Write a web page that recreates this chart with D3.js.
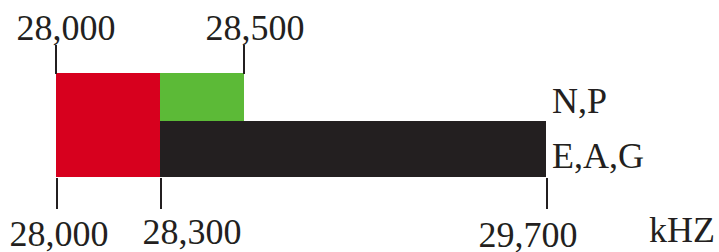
<!DOCTYPE html>
<html lang="en">
<head>
  <meta charset="UTF-8" />
  <title>Band plan</title>
  <script src="https://d3js.org/d3.v7.min.js"></script>
  <style>
    body { margin: 0; background: #fff; }
    text { font-family: "Liberation Serif", "DejaVu Serif", serif; font-size: 36px; fill: #231f20; }
  </style>
</head>
<body>
  <div id="chart"></div>
  <script>
    // frequency bands in kHz
    const bandStart = [28000, 28300, 28300];
    const bandEnd   = [28300, 28500, 29700];
    const bandRows  = ['all', 'top', 'bottom'];
    const bandColors = ['#d7001e', '#5cba37', '#231f20'];

    const rowLabels = ['N,P', 'E,A,G'];
    const topTicks = [28000, 28500];
    const bottomTicks = [28000, 28300, 29700];
    const unit = 'kHZ';

    const w = 719, h = 252;

    const svg = d3.select('#chart')
      .append('svg')
      .attr('width', w)
      .attr('height', h);

    // the drawing is not to scale, so the axis is piecewise
    const x = d3.scaleLinear()
      .domain([28000, 28300, 28500, 29700])
      .range([56, 160, 244, 546]);

    const rowTop = { all: 73, top: 73, bottom: 121 };
    const rowBottom = { all: 177, top: 121, bottom: 177 };

    const bands = bandStart.map((s, i) => ({
      start: s, end: bandEnd[i], row: bandRows[i], color: bandColors[i]
    }));

    svg.selectAll('rect.band')
      .data(bands)
      .join('rect')
      .attr('class', 'band')
      .attr('x', d => x(d.start))
      .attr('width', d => x(d.end) - x(d.start))
      .attr('y', d => rowTop[d.row])
      .attr('height', d => rowBottom[d.row] - rowTop[d.row])
      .attr('fill', d => d.color);

    // tick marks
    svg.selectAll('line.top-tick')
      .data(topTicks)
      .join('line')
      .attr('class', 'top-tick')
      .attr('x1', d => x(d)).attr('x2', d => x(d))
      .attr('y1', 45).attr('y2', 74)
      .attr('stroke', '#231f20').attr('stroke-width', 2);

    svg.selectAll('line.bottom-tick')
      .data(bottomTicks)
      .join('line')
      .attr('class', 'bottom-tick')
      .attr('x1', d => x(d) + 1).attr('x2', d => x(d) + 1)
      .attr('y1', 178).attr('y2', 209)
      .attr('stroke', '#231f20').attr('stroke-width', 2);

    const fmt = d3.format(',');
    const topDx = [10, 11];
    const bottomDx = [3, 32, -18];
    const bottomY = [246, 244, 247];

    svg.selectAll('text.top-label')
      .data(topTicks)
      .join('text')
      .attr('class', 'top-label')
      .attr('x', (d, i) => x(d) + topDx[i])
      .attr('y', 40)
      .attr('text-anchor', 'middle')
      .text(d => fmt(d));

    svg.selectAll('text.bottom-label')
      .data(bottomTicks)
      .join('text')
      .attr('class', 'bottom-label')
      .attr('x', (d, i) => x(d) + bottomDx[i])
      .attr('y', (d, i) => bottomY[i])
      .attr('text-anchor', 'middle')
      .text(d => fmt(d));

    svg.selectAll('text.row-label')
      .data(rowLabels)
      .join('text')
      .attr('class', 'row-label')
      .attr('x', x(29700) + 6)
      .attr('y', (d, i) => i === 0 ? 113 : 168)
      .text(d => d);

    svg.append('text')
      .attr('x', 715)
      .attr('y', 242)
      .attr('text-anchor', 'end')
      .text(unit);
  </script>
</body>
</html>
